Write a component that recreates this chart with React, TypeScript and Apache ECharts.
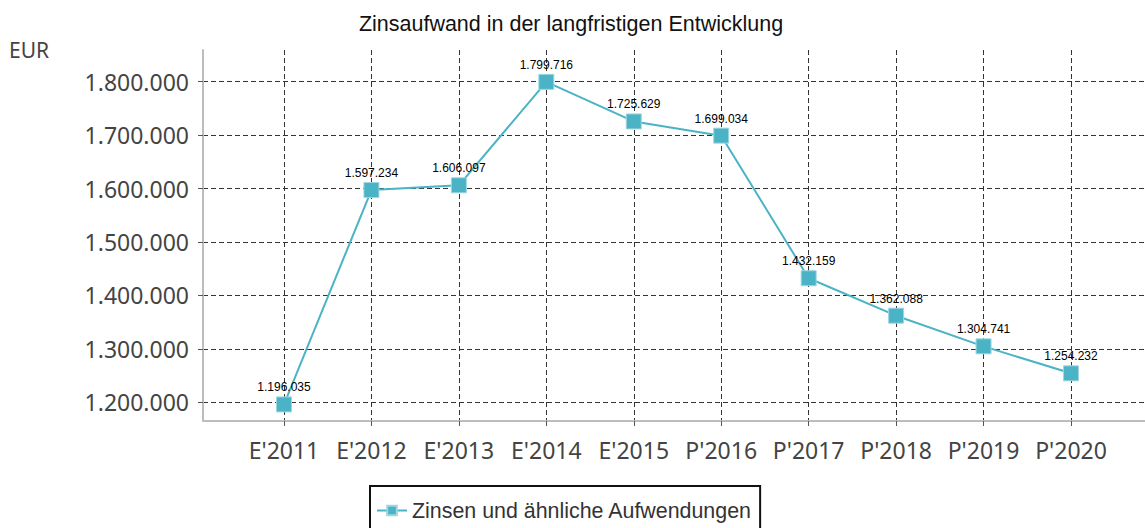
import React, { useEffect, useRef } from "react";
import * as echarts from "echarts";

const categories = ["E'2011", "E'2012", "E'2013", "E'2014", "E'2015", "P'2016", "P'2017", "P'2018", "P'2019", "P'2020"];
const values = [1196035, 1597234, 1606097, 1799716, 1725629, 1699034, 1432159, 1362088, 1304741, 1254232];
const yTicks = [1200000, 1300000, 1400000, 1500000, 1600000, 1700000, 1800000];
const seriesName = "Zinsen und ähnliche Aufwendungen";
const titleText = "Zinsaufwand in der langfristigen Entwicklung";
const unitText = "EUR";

const HUMAN = "'Noto Sans', 'Open Sans', sans-serif";
const SANS = "'Liberation Sans', Arial, sans-serif";

function fmt(v: number): string {
  return String(Math.round(v)).replace(/\B(?=(\d{3})+(?!\d))/g, ".");
}

export default function App() {
  const ref = useRef<HTMLDivElement>(null);
  useEffect(() => {
    if (!ref.current) return;
    const chart = echarts.init(ref.current, null, { renderer: "svg" });
    const xIdx = categories.map((_, i) => i);
    chart.setOption({
      animation: false,
      backgroundColor: "#ffffff",
      title: {
        text: titleText,
        left: 566,
        textAlign: "center",
        top: 8,
        textStyle: { fontFamily: SANS, fontSize: 21.5, fontWeight: "normal", color: "#111" },
      },
      graphic: [
        {
          type: "text",
          x: 9,
          y: 39,
          style: { text: unitText, fontFamily: HUMAN, fontSize: 21, fill: "#444" },
        },
      ],
      legend: {
        left: 370,
        top: 486,
        borderColor: "#111",
        borderWidth: 2,
        padding: [14, 8, 12, 6],
        itemWidth: 30,
        itemHeight: 12,
        textStyle: { fontFamily: SANS, fontSize: 21.4, color: "#333" },
        data: [seriesName],
      },
      grid: { left: 203, right: 0, top: 50, bottom: 107, containLabel: false },
      xAxis: {
        type: "value",
        min: -0.926,
        max: 9.846,
        axisLine: { show: true, onZero: false, lineStyle: { color: "#bdbdbd", width: 2 } },
        axisTick: { show: true, customValues: xIdx, length: 5, lineStyle: { color: "#555" } },
        axisLabel: {
          customValues: xIdx,
          formatter: (v: number) => categories[Math.round(v)] ?? "",
          fontFamily: HUMAN,
          fontSize: 23,
          color: "#444",
          margin: 17,
        },
        splitLine: { show: true, lineStyle: { color: "#333", type: [5, 3], width: 1 } },
      },
      yAxis: {
        type: "value",
        min: 1165000,
        max: 1859330,
        axisLine: { show: true, onZero: false, lineStyle: { color: "#bdbdbd", width: 2 } },
        axisTick: { show: true, customValues: yTicks, length: 5, lineStyle: { color: "#555" } },
        axisLabel: {
          customValues: yTicks,
          formatter: (v: number) => fmt(v),
          fontFamily: HUMAN,
          fontSize: 23,
          color: "#444",
          margin: 14,
        },
        splitLine: { show: true, lineStyle: { color: "#333", type: [5, 3], width: 1 } },
      },
      series: [
        {
          name: seriesName,
          type: "line",
          data: values.map((v, i) => [i, v]),
          symbol: "rect",
          symbolSize: 15,
          lineStyle: { color: "#4ab3c5", width: 2 },
          itemStyle: { color: "#4ab3c5", borderColor: "#9fd6e0", borderWidth: 1 },
          label: {
            show: true,
            position: "top",
            distance: 3,
            formatter: (p: any) => fmt(p.value[1]),
            fontFamily: SANS,
            fontSize: 12,
            color: "#000",
          },
        },
      ],
    });
    return () => chart.dispose();
  }, []);
  return (
    <div
      ref={ref}
      style={{ position: "absolute", left: 0, top: 0, width: 1145, height: 528, background: "#fff" }}
    />
  );
}
